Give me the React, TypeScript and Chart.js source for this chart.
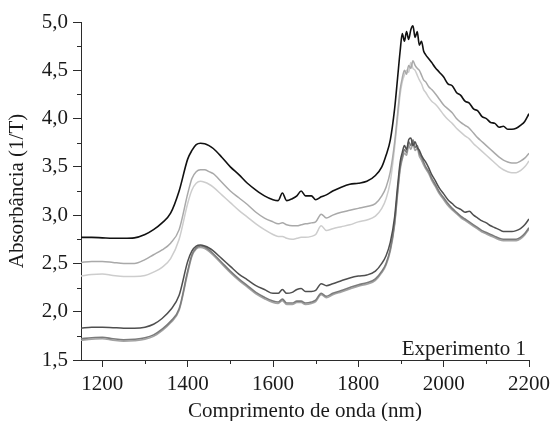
import React, { useEffect, useRef } from "react";
import { Chart, registerables } from "chart.js";

Chart.register(...registerables);

const wavelengths = [
  1150, 1175, 1200, 1225, 1250, 1275, 1300, 1320, 1340, 1360,
  1380, 1400, 1410, 1420, 1430, 1440, 1450, 1460, 1480, 1500,
  1520, 1540, 1560, 1580, 1600, 1612, 1622, 1632, 1645, 1656,
  1666, 1676, 1690, 1700, 1713, 1725, 1740, 1760, 1780, 1800,
  1820, 1840, 1855, 1865, 1875, 1885, 1892, 1898, 1903, 1908,
  1913, 1918, 1923, 1928, 1933, 1938, 1943, 1948, 1953, 1958,
  1965, 1972, 1980, 1990, 2000, 2010, 2020, 2030, 2040, 2050,
  2060, 2070, 2080, 2090, 2100, 2110, 2120, 2130, 2140, 2150,
  2160, 2170, 2180, 2190, 2200,
];

const sampleBlack = [
  2.77, 2.77, 2.765, 2.76, 2.76, 2.765, 2.8, 2.85, 2.92, 3.02,
  3.25, 3.58, 3.67, 3.73, 3.745, 3.74, 3.72, 3.69, 3.6, 3.5,
  3.42, 3.33, 3.26, 3.2, 3.16, 3.15, 3.23, 3.15, 3.17, 3.2,
  3.25, 3.2, 3.2, 3.16, 3.19, 3.21, 3.25, 3.29, 3.32, 3.33,
  3.35, 3.41, 3.5, 3.62, 3.78, 4.1, 4.42, 4.7, 4.88, 4.8,
  4.9, 4.82, 4.92, 4.96, 4.84, 4.9, 4.76, 4.8, 4.7, 4.66,
  4.62, 4.58, 4.53, 4.48, 4.43, 4.36, 4.34, 4.27, 4.24, 4.18,
  4.16, 4.1, 4.08, 4.02, 4.0, 3.96, 3.95, 3.91, 3.92, 3.89,
  3.89, 3.9, 3.93, 3.97, 4.05,
];

const sampleMidGray = [
  2.51, 2.52, 2.52, 2.51, 2.5, 2.5, 2.54, 2.59, 2.64, 2.71,
  2.85, 3.22, 3.38, 3.45, 3.47, 3.47, 3.45, 3.43, 3.34, 3.25,
  3.18, 3.11, 3.03, 2.97, 2.93, 2.91, 2.92, 2.9, 2.89, 2.89,
  2.9, 2.91, 2.92, 2.93, 3.01, 2.97, 3.0, 3.03, 3.05, 3.07,
  3.09, 3.12, 3.2, 3.29, 3.45, 3.75, 4.05, 4.3, 4.42, 4.5,
  4.46, 4.55, 4.52, 4.6, 4.55, 4.52, 4.5, 4.45, 4.4, 4.38,
  4.33, 4.3, 4.26, 4.2, 4.14, 4.1, 4.06, 4.0, 3.96, 3.93,
  3.9, 3.85, 3.8, 3.76, 3.72, 3.68, 3.64, 3.6, 3.57, 3.55,
  3.54, 3.54, 3.56, 3.59, 3.64,
];

const sampleLightGray = [
  2.37, 2.385, 2.39, 2.375, 2.365, 2.365, 2.375, 2.41, 2.46, 2.55,
  2.75, 3.12, 3.26, 3.33, 3.35, 3.34, 3.32, 3.29, 3.21, 3.13,
  3.05, 2.98, 2.91, 2.85, 2.8, 2.78, 2.78, 2.76, 2.75, 2.76,
  2.77, 2.77, 2.78, 2.8, 2.89, 2.84, 2.86, 2.88, 2.9, 2.93,
  2.95, 2.99, 3.07, 3.17, 3.35, 3.7, 4.0, 4.25, 4.38, 4.45,
  4.5, 4.48, 4.58, 4.52, 4.5, 4.45, 4.4, 4.36, 4.3, 4.27,
  4.22, 4.18, 4.15, 4.1, 4.04, 3.99, 3.95, 3.9, 3.86, 3.82,
  3.79, 3.74, 3.7, 3.66, 3.62, 3.58, 3.54, 3.5, 3.47, 3.45,
  3.44, 3.44, 3.46, 3.5, 3.56,
];

const sampleDarkGray = [
  1.83, 1.84, 1.84, 1.835, 1.83, 1.83, 1.84, 1.87, 1.93, 2.02,
  2.17, 2.52, 2.63, 2.68, 2.69, 2.68, 2.66, 2.63, 2.55, 2.47,
  2.39, 2.33, 2.27, 2.23, 2.19, 2.19, 2.23, 2.19, 2.2, 2.23,
  2.24, 2.21, 2.21, 2.22, 2.29, 2.27, 2.29, 2.32, 2.35, 2.37,
  2.38, 2.42, 2.5, 2.58, 2.72, 2.98, 3.3, 3.55, 3.65, 3.72,
  3.68, 3.78, 3.8, 3.72, 3.76, 3.7, 3.67, 3.62, 3.58, 3.55,
  3.49, 3.42, 3.36, 3.28, 3.22, 3.16, 3.12, 3.08, 3.06, 3.03,
  3.04, 3.0, 2.97, 2.94, 2.92, 2.89, 2.87, 2.85, 2.83, 2.83,
  2.83, 2.84, 2.86, 2.9, 2.96,
];

const sampleGrayA = [
  1.72, 1.73, 1.735, 1.72, 1.71, 1.715, 1.73, 1.76, 1.82, 1.9,
  2.03, 2.42, 2.59, 2.66, 2.68, 2.67, 2.64, 2.6, 2.51, 2.42,
  2.34, 2.27, 2.2, 2.15, 2.11, 2.1, 2.13, 2.09, 2.09, 2.11,
  2.11, 2.09, 2.1, 2.12, 2.19, 2.16, 2.19, 2.22, 2.25, 2.28,
  2.3, 2.34, 2.42, 2.5, 2.65, 2.92, 3.25, 3.5, 3.6, 3.68,
  3.65, 3.76, 3.72, 3.78, 3.7, 3.72, 3.64, 3.6, 3.55, 3.5,
  3.45, 3.38, 3.32, 3.24, 3.18, 3.12, 3.07, 3.03, 2.99, 2.96,
  2.93, 2.9, 2.87, 2.84, 2.82, 2.8, 2.78, 2.76, 2.75, 2.75,
  2.75, 2.75, 2.77, 2.81, 2.87,
];

const sampleGrayB = [
  1.705, 1.715, 1.72, 1.705, 1.695, 1.7, 1.715, 1.745, 1.805, 1.885,
  2.015, 2.4, 2.575, 2.65, 2.665, 2.655, 2.625, 2.585, 2.495, 2.405,
  2.325, 2.255, 2.185, 2.135, 2.095, 2.085, 2.115, 2.075, 2.075, 2.095,
  2.095, 2.075, 2.085, 2.105, 2.175, 2.145, 2.175, 2.205, 2.235, 2.265,
  2.285, 2.325, 2.405, 2.485, 2.63, 2.9, 3.22, 3.47, 3.58, 3.64,
  3.62, 3.72, 3.68, 3.74, 3.67, 3.69, 3.61, 3.57, 3.52, 3.48,
  3.43, 3.36, 3.3, 3.22, 3.16, 3.1, 3.055, 3.015, 2.975, 2.945,
  2.915, 2.885, 2.855, 2.825, 2.805, 2.785, 2.765, 2.745, 2.735, 2.735,
  2.735, 2.735, 2.755, 2.795, 2.855,
];

const X_TICKS = [1200, 1400, 1600, 1800, 2000, 2200];
const X_MINOR = [1300, 1500, 1700, 1900, 2100];
const Y_TICKS = [1.5, 2.0, 2.5, 3.0, 3.5, 4.0, 4.5, 5.0];
const Y_MINOR = [1.75, 2.25, 2.75, 3.25, 3.75, 4.25, 4.75];

const FONT = "'Liberation Serif', 'Times New Roman', serif";
const AXIS_COLOR = "#2b2b2b";

const series = [
  { label: "A", values: sampleBlack, color: "#111111", width: 1.6 },
  { label: "B", values: sampleMidGray, color: "#a9a9a9", width: 1.5 },
  { label: "C", values: sampleLightGray, color: "#cdcdcd", width: 1.5 },
  { label: "D", values: sampleDarkGray, color: "#4f4f4f", width: 1.5 },
  { label: "E", values: sampleGrayA, color: "#7c7c7c", width: 1.6 },
  { label: "F", values: sampleGrayB, color: "#a3a3a3", width: 1.6 },
];

const extrasPlugin = {
  id: "extras",
  afterDraw(chart: any) {
    const ctx = chart.ctx;
    const xs = chart.scales.x;
    const ys = chart.scales.y;
    const area = chart.chartArea;
    ctx.save();
    ctx.strokeStyle = AXIS_COLOR;
    ctx.lineWidth = 1;
    ctx.beginPath();
    for (const v of X_MINOR) {
      const px = Math.round(xs.getPixelForValue(v)) + 0.5;
      ctx.moveTo(px, area.bottom);
      ctx.lineTo(px, area.bottom + 4);
    }
    for (const v of Y_MINOR) {
      const py = Math.round(ys.getPixelForValue(v)) + 0.5;
      ctx.moveTo(area.left, py);
      ctx.lineTo(area.left - 4, py);
    }
    ctx.stroke();
    ctx.fillStyle = "#1a1a1a";
    ctx.font = `21px ${FONT}`;
    ctx.textAlign = "right";
    ctx.textBaseline = "alphabetic";
    ctx.fillText("Experimento 1", area.right - 3, area.bottom - 5);
    ctx.restore();
  },
};

export default function App() {
  const ref = useRef<HTMLCanvasElement | null>(null);

  useEffect(() => {
    if (!ref.current) return;
    const chart = new Chart(ref.current, {
      type: "line",
      data: {
        datasets: series.map((s) => ({
          label: s.label,
          data: wavelengths.map((w, i) => ({ x: w, y: s.values[i] })),
          borderColor: s.color,
          borderWidth: s.width,
          pointRadius: 0,
          fill: false,
          cubicInterpolationMode: "monotone" as const,
        })),
      },
      options: {
        animation: false,
        responsive: false,
        layout: { padding: { top: 22, right: 24, left: 0, bottom: 0 } },
        plugins: {
          legend: { display: false },
          tooltip: { enabled: false },
        },
        scales: {
          x: {
            type: "linear",
            min: 1150,
            max: 2200,
            afterBuildTicks: (scale: any) => {
              scale.ticks = X_TICKS.map((v) => ({ value: v }));
            },
            afterFit: (scale: any) => {
              scale.height = 61;
            },
            grid: {
              display: true,
              drawOnChartArea: false,
              drawTicks: true,
              tickLength: 7,
              color: AXIS_COLOR,
            },
            border: { display: true, color: AXIS_COLOR, width: 1 },
            ticks: {
              color: "#1a1a1a",
              padding: 5,
              maxRotation: 0,
              font: { family: FONT, size: 21 },
              callback: (v: any) => String(v),
            },
            title: {
              display: true,
              text: "Comprimento de onda (nm)",
              color: "#1a1a1a",
              font: { family: FONT, size: 21 },
              padding: { top: 0, bottom: -3 },
            },
          },
          y: {
            type: "linear",
            min: 1.5,
            max: 5.0,
            afterBuildTicks: (scale: any) => {
              scale.ticks = Y_TICKS.map((v) => ({ value: v }));
            },
            afterFit: (scale: any) => {
              scale.width = 81;
            },
            grid: {
              display: true,
              drawOnChartArea: false,
              drawTicks: true,
              tickLength: 8,
              color: AXIS_COLOR,
            },
            border: { display: true, color: AXIS_COLOR, width: 1 },
            ticks: {
              color: "#1a1a1a",
              padding: 5,
              font: { family: FONT, size: 21 },
              callback: (v: any) => Number(v).toFixed(1).replace(".", ","),
            },
            title: {
              display: true,
              text: "Absorbância (1/T)",
              color: "#1a1a1a",
              font: { family: FONT, size: 21 },
              padding: { top: 5, bottom: 0 },
            },
          },
        },
      },
      plugins: [extrasPlugin],
    });
    return () => chart.destroy();
  }, []);

  return (
    <canvas
      ref={ref}
      width={555}
      height={421}
      style={{ position: "absolute", left: 0, top: 0, display: "block", background: "#ffffff" }}
    />
  );
}
